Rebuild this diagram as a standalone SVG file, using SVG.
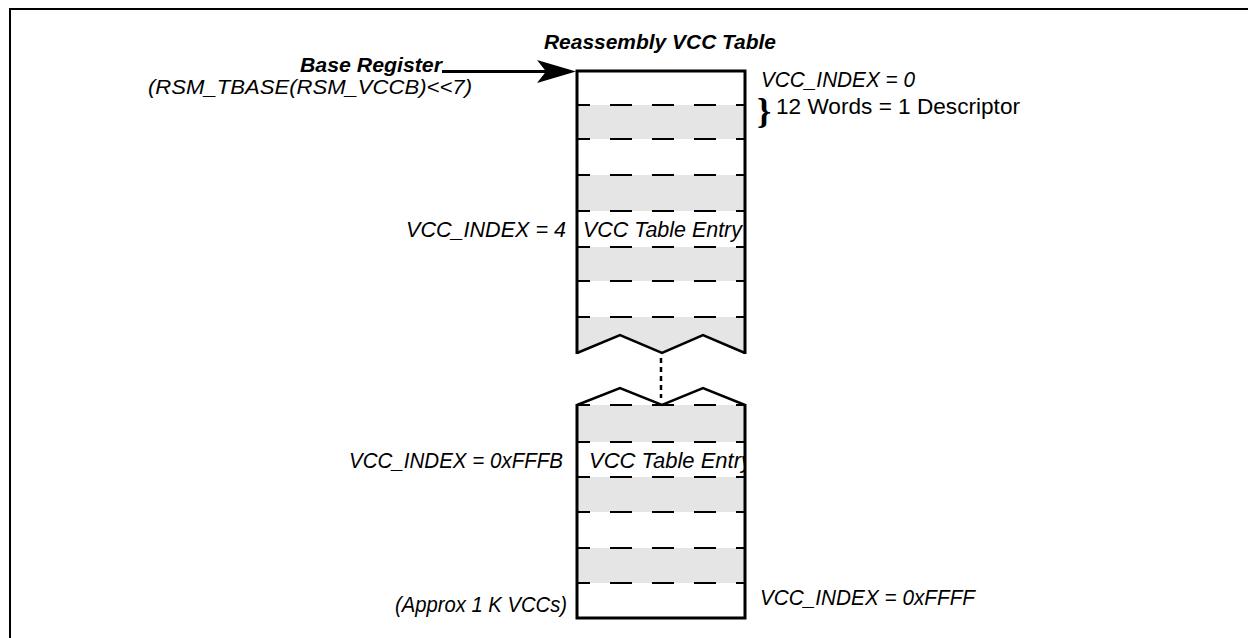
<svg xmlns="http://www.w3.org/2000/svg" width="1248" height="638" viewBox="0 0 1248 638">
<style>
.t{font-family:"Liberation Sans",Arial,sans-serif;font-size:22px;fill:#000}
.i{font-style:italic}
.b{font-weight:bold}
.dash{stroke:#000;stroke-width:2;stroke-dasharray:22 20;stroke-dashoffset:9;fill:none}
.border{stroke:#000;stroke-width:3;fill:none;stroke-linejoin:miter}
.zig{stroke:#000;stroke-width:2.5;fill:none;stroke-linejoin:miter}
.grey{fill:#e5e5e5}
</style>
<defs>
<clipPath id="clipLow"><rect x="577" y="442" width="167" height="35"/></clipPath>
</defs>
<rect width="1248" height="638" fill="#fff"/>
<g id="frame">
<path d="M10,638 V9 H1248" fill="none" stroke="#000" stroke-width="2"/>
</g>
<g id="title">
<text class="t i b" x="544" y="49" style="font-size:20px" textLength="232" lengthAdjust="spacingAndGlyphs">Reassembly VCC Table</text>
</g>
<g id="upper-table">
<rect x="577" y="71" width="168" height="282" fill="#fff"/>
<rect class="grey" x="577" y="105" width="168" height="34"/>
<rect class="grey" x="577" y="175" width="168" height="36"/>
<rect class="grey" x="577" y="247" width="168" height="34"/>
<polygon class="grey" points="577,317 745,317 745,353 703,335 662,353 620,335 577,353"/>
<line class="dash" x1="577" y1="105" x2="745" y2="105"/>
<line class="dash" x1="577" y1="139" x2="745" y2="139"/>
<line class="dash" x1="577" y1="175" x2="745" y2="175"/>
<line class="dash" x1="577" y1="211" x2="745" y2="211"/>
<line class="dash" x1="577" y1="247" x2="745" y2="247"/>
<line class="dash" x1="577" y1="281" x2="745" y2="281"/>
<line class="dash" x1="577" y1="317" x2="745" y2="317"/>
<text class="t i" x="583" y="237" textLength="159" lengthAdjust="spacingAndGlyphs">VCC Table Entry</text>
<polyline class="zig" points="577,353 620,335 662,353 703,335 745,353"/>
<path class="border" d="M577,354 V71 H745 V354"/>
</g>
<g id="lower-table">
<rect class="grey" x="577" y="405" width="168" height="37"/>
<rect class="grey" x="577" y="477" width="168" height="35"/>
<rect class="grey" x="577" y="548" width="168" height="35"/>
<line class="dash" x1="577" y1="405" x2="745" y2="405"/>
<line class="dash" x1="577" y1="442" x2="745" y2="442"/>
<line class="dash" x1="577" y1="477" x2="745" y2="477"/>
<line class="dash" x1="577" y1="512" x2="745" y2="512"/>
<line class="dash" x1="577" y1="548" x2="745" y2="548"/>
<line class="dash" x1="577" y1="583" x2="745" y2="583"/>
<text class="t i" x="589" y="468" textLength="163" lengthAdjust="spacingAndGlyphs" clip-path="url(#clipLow)">VCC Table Entry</text>
<polyline class="zig" points="577,405 620,388 662,405 703,388 745,405"/>
<path class="border" d="M577,404 V618 H745 V404"/>
</g>
<g id="labels">
<text class="t i b" x="300" y="72" style="font-size:20px" textLength="142" lengthAdjust="spacingAndGlyphs">Base Register</text>
<text class="t i" x="148" y="94" style="font-size:21px" textLength="324" lengthAdjust="spacingAndGlyphs">(RSM_TBASE(RSM_VCCB)&lt;&lt;7)</text>
<text class="t i" x="761" y="87" textLength="154" lengthAdjust="spacingAndGlyphs">VCC_INDEX = 0</text>
<text x="757" y="123" style="font-family:'Liberation Serif',serif;font-size:36px;font-weight:bold">}</text>
<text class="t" x="776" y="114" textLength="244" lengthAdjust="spacingAndGlyphs">12 Words = 1 Descriptor</text>
<text class="t i" x="406" y="237" textLength="160" lengthAdjust="spacingAndGlyphs">VCC_INDEX = 4</text>
<text class="t i" x="349" y="468" textLength="214" lengthAdjust="spacingAndGlyphs">VCC_INDEX = 0xFFFB</text>
<text class="t i" x="395" y="612" textLength="172" lengthAdjust="spacingAndGlyphs">(Approx 1 K VCCs)</text>
<text class="t i" x="760" y="605" textLength="215" lengthAdjust="spacingAndGlyphs">VCC_INDEX = 0xFFFF</text>
</g>
<g id="connectors">
<line x1="442" y1="71.5" x2="548" y2="71.5" stroke="#000" stroke-width="3"/>
<polygon points="576,71.5 537,60 546,71.5 537,83" fill="#000"/>
<line x1="661" y1="358" x2="661" y2="398" stroke="#000" stroke-width="2.5" stroke-dasharray="5 4"/>
</g>
</svg>
